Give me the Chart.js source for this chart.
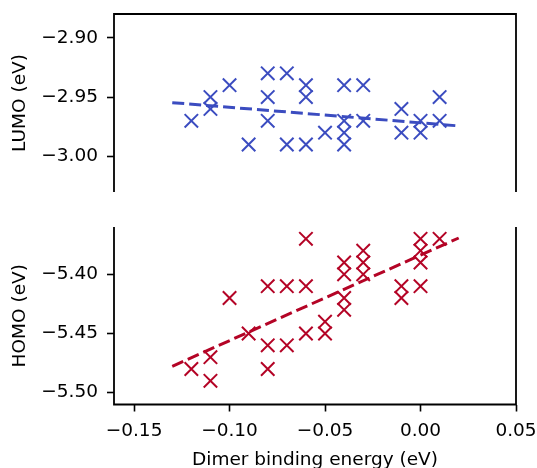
<!DOCTYPE html>
<html><head><meta charset="utf-8">
<script src="https://cdn.jsdelivr.net/npm/chart.js@4/dist/chart.umd.min.js"></script>
<style>
html,body{margin:0;padding:0;background:#fff;}
#wrap{position:relative;width:537px;height:468px;overflow:hidden;}
canvas{position:absolute;left:0;}
#c1{top:0;} #c2{top:200px;}
</style></head><body>
<div id="wrap"><canvas id="c1" width="537" height="200"></canvas><canvas id="c2" width="537" height="268"></canvas></div>
<script>
// ---- data ----
const lumoX = [-0.12, -0.11, -0.11, -0.10, -0.09, -0.08, -0.08, -0.08, -0.07, -0.07, -0.06, -0.06, -0.06, -0.05, -0.04, -0.04, -0.04, -0.04, -0.03, -0.03, -0.01, -0.01, 0.00, 0.00, 0.01, 0.01];
const lumoY = [-2.97, -2.95, -2.96, -2.94, -2.99, -2.93, -2.95, -2.97, -2.93, -2.99, -2.94, -2.95, -2.99, -2.98, -2.94, -2.97, -2.98, -2.99, -2.94, -2.97, -2.96, -2.98, -2.97, -2.98, -2.95, -2.97];
const homoX = [-0.12, -0.11, -0.11, -0.10, -0.09, -0.08, -0.08, -0.08, -0.07, -0.07, -0.06, -0.06, -0.06, -0.05, -0.05, -0.04, -0.04, -0.04, -0.04, -0.03, -0.03, -0.03, -0.01, -0.01, 0.00, 0.00, 0.00, 0.00, 0.01];
const homoY = [-5.48, -5.47, -5.49, -5.42, -5.45, -5.41, -5.46, -5.48, -5.41, -5.46, -5.37, -5.41, -5.45, -5.44, -5.45, -5.39, -5.40, -5.42, -5.43, -5.38, -5.39, -5.40, -5.41, -5.42, -5.37, -5.38, -5.39, -5.41, -5.37];
const fitX = [-0.13, 0.02];
const lumoFitY = [-2.9547, -2.9743];
const homoFitY = [-5.4777, -5.3693];
const xTicks = [-0.15, -0.10, -0.05, 0.00, 0.05];
const lumoTicks = [-3.00, -2.95, -2.90];
const homoTicks = [-5.50, -5.45, -5.40];
const xRange = [-0.1605, 0.05];
const lumoRange = [-3.03, -2.88];
const homoRange = [-5.51, -5.36];
const xLabel = 'Dimer binding energy (eV)';
const lumoLabel = 'LUMO (eV)';
const homoLabel = 'HOMO (eV)';

const BLUE = '#3b4cc0', RED = '#b40426';
const FONT = 'DejaVu Sans';
const FS = 18.5;
function fmt(v){ const s = Math.abs(v).toFixed(2); return (v < -1e-9 ? '\u2212' : '') + s; }
function pts(xs, ys){ return xs.map((x,i)=>({x:x, y:ys[i]})); }

const spines = {
  id:'spines',
  afterDraw(chart, args, opts){
    const ctx = chart.ctx, a = chart.chartArea;
    ctx.save();
    ctx.strokeStyle = '#000'; ctx.lineWidth = 1.8; ctx.lineJoin = 'miter'; ctx.lineCap = 'butt';
    ctx.beginPath();
    if (opts.mode === 'top') {
      ctx.moveTo(a.left, a.bottom); ctx.lineTo(a.left, a.top); ctx.lineTo(a.right, a.top); ctx.lineTo(a.right, a.bottom);
    } else {
      ctx.moveTo(a.left, a.top); ctx.lineTo(a.left, a.bottom); ctx.lineTo(a.right, a.bottom); ctx.lineTo(a.right, a.top);
    }
    ctx.stroke();
    ctx.restore();
  }
};

function gridOpts(){ return { display:true, drawOnChartArea:false, drawTicks:true, tickLength:7, tickWidth:1.6, tickColor:'#000' }; }

function make(id, xs, ys, fitY, color, yTicks, yRange, yTitle, isBottom){
  const scales = {
    x: {
      type:'linear', position:'bottom', min:xRange[0], max:xRange[1], display:isBottom,
      afterBuildTicks(s){ s.ticks = xTicks.map(v=>({value:v})); },
      afterFit(s){ if (isBottom) s.height = 63.5; s.paddingLeft = 0; s.paddingRight = 0; },
      grid: gridOpts(), border:{display:false},
      ticks:{ color:'#000', font:{family:FONT, size:FS}, padding:9, maxRotation:0, autoSkip:false, callback:(v)=>fmt(v) },
      title:{ display:true, text:xLabel, color:'#000', font:{family:FONT, size:FS, lineHeight:1.0}, padding:{top:0, bottom:-1} }
    },
    y: {
      type:'linear', position:'left', min:yRange[0], max:yRange[1],
      afterBuildTicks(s){ s.ticks = yTicks.map(v=>({value:v})); },
      afterFit(s){ s.width = 114; s.paddingTop = 0; s.paddingBottom = 0; },
      grid: gridOpts(), border:{display:false},
      ticks:{ color:'#000', font:{family:FONT, size:FS}, padding:9, autoSkip:false, callback:(v)=>fmt(v) },
      title:{ display:true, text:yTitle, color:'#000', font:{family:FONT, size:FS}, padding:{top:9, bottom:0} }
    }
  };
  return new Chart(document.getElementById(id), {
    type:'scatter',
    data:{ datasets:[
      { data: pts(fitX, fitY), showLine:true, borderColor:color, borderWidth:3, borderDash:[12,5], pointRadius:0, fill:false, order:1 },
      { data: pts(xs, ys), showLine:false, pointStyle:'crossRot', pointRadius:9.5, pointBorderWidth:2, pointBorderColor:color, pointBackgroundColor:color, borderColor:color, order:2 }
    ]},
    options:{
      responsive:false, animation:false, devicePixelRatio:1,
      layout:{ autoPadding:false, padding: isBottom ? {left:0, right:21, top:27, bottom:0} : {left:0, right:21, top:14, bottom:8} },
      plugins:{ legend:{display:false}, tooltip:{enabled:false}, spines:{mode: isBottom ? 'bottom' : 'top'} },
      scales: scales
    },
    plugins:[spines]
  });
}

make('c1', lumoX, lumoY, lumoFitY, BLUE, lumoTicks, lumoRange, lumoLabel, false);
make('c2', homoX, homoY, homoFitY, RED, homoTicks, homoRange, homoLabel, true);
</script>
</body></html>
